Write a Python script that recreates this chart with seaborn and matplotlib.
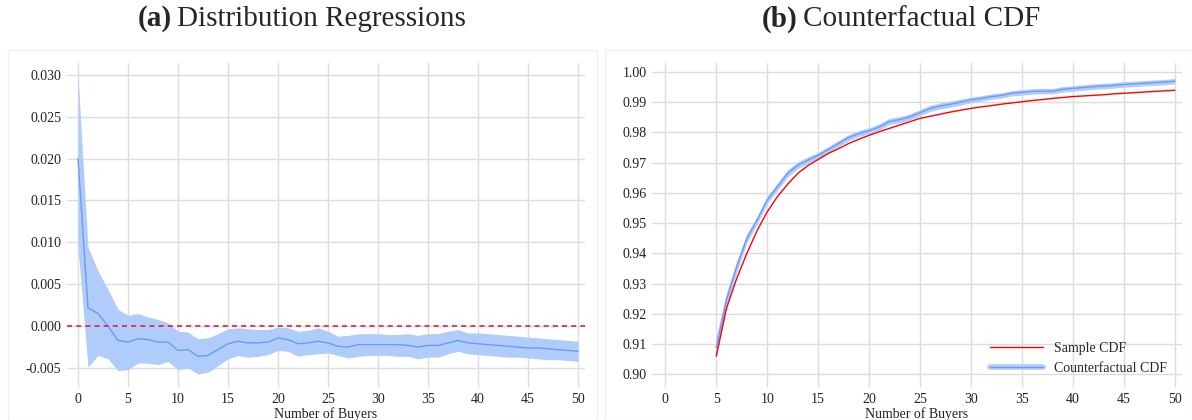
import numpy as np
import pandas as pd
import matplotlib
matplotlib.use("Agg")
import matplotlib.pyplot as plt
from matplotlib.lines import Line2D
from matplotlib.patches import Rectangle
from matplotlib.legend_handler import HandlerTuple
import seaborn as sns

# (a) distribution regression coefficients by number of buyers
buyers_a = list(range(0, 51))
coef = [0.0200, 0.0022, 0.0015, 0.0000, -0.0017, -0.0019, -0.0015, -0.0016, -0.0019, -0.0019,
        -0.0029, -0.0028, -0.0036, -0.0035, -0.0028, -0.0021, -0.0018, -0.0020, -0.0020, -0.0019,
        -0.0014, -0.0016, -0.0021, -0.0020, -0.0018, -0.0020, -0.0024, -0.0025, -0.0022, -0.0022,
        -0.0022, -0.0022, -0.0022, -0.0023, -0.0025, -0.0023, -0.0023, -0.0020, -0.0017, -0.0020,
        -0.0021, -0.0022, -0.0023, -0.0024, -0.0025, -0.0026, -0.0026, -0.0027, -0.0028, -0.0029,
        -0.0030]
coef_hi = [0.0300, 0.0094, 0.0066, 0.0044, 0.0020, 0.0013, 0.0015, 0.0011, 0.0008, 0.0004,
           -0.0006, -0.0007, -0.0015, -0.0014, -0.0009, -0.0003, -0.0002, -0.0003, -0.0004, -0.0004,
           -0.0001, -0.0002, -0.0006, -0.0005, -0.0002, -0.0006, -0.0012, -0.0011, -0.0009, -0.0009,
           -0.0009, -0.0010, -0.0010, -0.0009, -0.0011, -0.0009, -0.0009, -0.0006, -0.0004, -0.0008,
           -0.0008, -0.0009, -0.0010, -0.0011, -0.0012, -0.0013, -0.0014, -0.0015, -0.0016, -0.0017,
           -0.0018]
coef_lo = [0.0095, -0.0049, -0.0035, -0.0039, -0.0053, -0.0052, -0.0044, -0.0044, -0.0046, -0.0042,
           -0.0052, -0.0050, -0.0057, -0.0055, -0.0047, -0.0039, -0.0035, -0.0037, -0.0036, -0.0034,
           -0.0029, -0.0030, -0.0036, -0.0034, -0.0033, -0.0032, -0.0035, -0.0038, -0.0036, -0.0035,
           -0.0035, -0.0035, -0.0036, -0.0036, -0.0039, -0.0037, -0.0037, -0.0033, -0.0030, -0.0033,
           -0.0034, -0.0035, -0.0036, -0.0037, -0.0037, -0.0038, -0.0039, -0.0040, -0.0040, -0.0041,
           -0.0042]

# (b) sample vs counterfactual CDF
buyers_b = list(range(5, 51))
sample_cdf = [0.9060, 0.9217, 0.9316, 0.9399, 0.9474, 0.9537, 0.9587, 0.9628, 0.9664, 0.9690,
              0.9710, 0.9730, 0.9746, 0.9763, 0.9777, 0.9790, 0.9802, 0.9813, 0.9824, 0.9835,
              0.9846, 0.9853, 0.9860, 0.9867, 0.9873, 0.9879, 0.9884, 0.9888, 0.9893, 0.9897,
              0.9901, 0.9905, 0.9908, 0.9912, 0.9915, 0.9918, 0.9920, 0.9922, 0.9924, 0.9927,
              0.9929, 0.9931, 0.9933, 0.9935, 0.9937, 0.9939]
cf_cdf = [0.9088, 0.9245, 0.9355, 0.9449, 0.9509, 0.9576, 0.9620, 0.9664, 0.9691, 0.9708,
          0.9724, 0.9743, 0.9763, 0.9783, 0.9796, 0.9805, 0.9818, 0.9836, 0.9842, 0.9851,
          0.9865, 0.9879, 0.9887, 0.9893, 0.9900, 0.9907, 0.9912, 0.9918, 0.9922, 0.9929,
          0.9932, 0.9935, 0.9936, 0.9936, 0.9942, 0.9945, 0.9948, 0.9951, 0.9953, 0.9955,
          0.9958, 0.9960, 0.9962, 0.9964, 0.9966, 0.9969]
cf_band = [0.0035, 0.0025, 0.0018, 0.0015, 0.0013, 0.0012, 0.0012, 0.0012, 0.0011, 0.0011,
           0.0010, 0.0010, 0.0010, 0.0010, 0.0010, 0.0010, 0.0010, 0.0010, 0.0010, 0.0010,
           0.0010, 0.0010, 0.0010, 0.0010, 0.0010, 0.0009, 0.0009, 0.0009, 0.0009, 0.0009,
           0.0009, 0.0009, 0.0009, 0.0009, 0.0009, 0.0009, 0.0009, 0.0009, 0.0009, 0.0009,
           0.0009, 0.0009, 0.0009, 0.0009, 0.0009, 0.0009]

sns.set_theme(style="whitegrid")
plt.rcParams['font.family'] = ['Liberation Serif', 'DejaVu Serif']
plt.rcParams['grid.color'] = '#dcdcdc'
plt.rcParams['grid.linewidth'] = 1.0

LINE_BLUE = '#6b9cf2'
BAND_BLUE = '#b0ccfb'

fig = plt.figure(figsize=(11.92, 4.2), dpi=100)

# faint panel frames
for x0, w in [(8, 589), (605, 587)]:
    fig.patches.append(Rectangle((x0 / 1192, 0), w / 1192, 370 / 420, transform=fig.transFigure,
                                 fill=False, edgecolor='#f0f0f0', linewidth=1.0))

ax1 = fig.add_axes([67 / 1192, 1 - 387 / 420, 518 / 1192, 324 / 420])
ax2 = fig.add_axes([652 / 1192, 1 - 387 / 420, 530 / 1192, 324 / 420])

df_a = pd.DataFrame({'buyers': buyers_a, 'coef': coef, 'lo': coef_lo, 'hi': coef_hi})
ax1.fill_between(df_a['buyers'], df_a['lo'], df_a['hi'], color=BAND_BLUE, linewidth=0, zorder=2)
sns.lineplot(data=df_a, x='buyers', y='coef', ax=ax1, color=LINE_BLUE, linewidth=1.0, zorder=3)
ax1.axhline(0, color='#e0204a', linestyle=(0, (3, 2.5)), linewidth=1.2, zorder=4)
ax1.set_xlim(-1.1, 50.7)
ax1.set_ylim(-0.00726, 0.0314)
ax1.set_xticks(range(0, 51, 5))
ax1.set_yticks([-0.005, 0.0, 0.005, 0.010, 0.015, 0.020, 0.025, 0.030])
ax1.set_yticklabels(['-0.005', '0.000', '0.005', '0.010', '0.015', '0.020', '0.025', '0.030'])

df_b = pd.DataFrame({'buyers': buyers_b, 'sample': sample_cdf, 'cf': cf_cdf, 'band': cf_band})
ax2.fill_between(df_b['buyers'], df_b['cf'] - df_b['band'], df_b['cf'] + df_b['band'],
                 color=BAND_BLUE, linewidth=0, zorder=2)
sns.lineplot(data=df_b, x='buyers', y='cf', ax=ax2, color=LINE_BLUE, linewidth=1.0, zorder=3)
sns.lineplot(data=df_b, x='buyers', y='sample', ax=ax2, color='#ff0000', linewidth=1.0, zorder=4)
ax2.set_xlim(-1.3, 50.7)
ax2.set_ylim(0.8958, 1.0029)
ax2.set_xticks(range(0, 51, 5))
ax2.set_yticks(np.round(np.arange(0.90, 1.001, 0.01), 2))
ax2.set_yticklabels([f'{v:.2f}' for v in np.arange(0.90, 1.001, 0.01)])

for ax in (ax1, ax2):
    ax.set_facecolor('white')
    for s in ax.spines.values():
        s.set_visible(False)
    ax.tick_params(axis='both', length=0, labelsize=10, colors='#222222', pad=4)
    ax.set_xlabel('Number of Buyers', fontsize=10, labelpad=1, color='#222222')
    ax.set_ylabel('')

h_sample = Line2D([], [], color='#ff0000', linewidth=1.0)
h_cf = (Line2D([], [], color=BAND_BLUE, linewidth=4), Line2D([], [], color=LINE_BLUE, linewidth=1.0))
ax2.legend([h_sample, h_cf], ['Sample CDF', 'Counterfactual CDF'], loc='lower right',
           frameon=False, fontsize=10, handlelength=3.8, handletextpad=0.8, labelspacing=0.5,
           handler_map={tuple: HandlerTuple(ndivide=1, pad=0)},
           bbox_to_anchor=(0.995, 0.0))

# titles: bold panel letter + normal text, placed one after the other
renderer = fig.canvas.get_renderer()
for x_start, letter, title in [(138, '(a)', 'Distribution Regressions'),
                               (762, '(b)', 'Counterfactual CDF')]:
    t = fig.text(x_start / 1192, 1 - 19 / 420, letter, fontsize=21, fontweight='bold',
                 ha='left', va='center')
    bb = t.get_window_extent(renderer)
    fig.text((bb.x1 + 5) / 1192, 1 - 19 / 420, title, fontsize=21, ha='left', va='center')

fig.savefig('out.png', dpi=100)
